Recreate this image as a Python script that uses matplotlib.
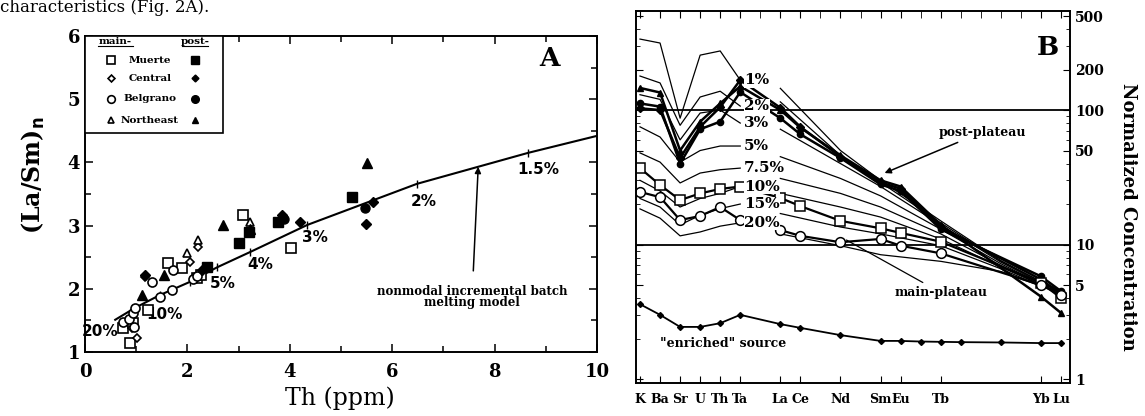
import matplotlib
matplotlib.use('Agg')
import matplotlib.pyplot as plt
from matplotlib.patches import Rectangle
from matplotlib.ticker import FixedLocator, MultipleLocator, NullFormatter

plt.rcParams['font.family'] = 'DejaVu Serif'
plt.rcParams['font.weight'] = 'bold'

# ---------------- panel A : (La/Sm)n vs Th ----------------
# main-plateau (open symbols)
main_muerte_th = [0.88, 0.75, 0.94, 1.23, 1.63, 1.89, 2.18, 2.26, 3.09, 4.02]
main_muerte_lasm = [1.14, 1.38, 1.46, 1.66, 2.41, 2.33, 2.17, 2.22, 3.17, 2.65]
main_central_th = [1.01, 1.17, 2.05, 2.20, 0.92]
main_central_lasm = [1.22, 2.19, 2.43, 2.66, 1.38]
main_belgrano_th = [0.74, 0.85, 0.94, 0.98, 1.31, 1.46, 1.70, 1.72, 2.11, 2.18, 0.95]
main_belgrano_lasm = [1.47, 1.52, 1.62, 1.70, 2.11, 1.87, 1.98, 2.30, 2.16, 2.20, 1.40]
main_northeast_th = [1.99, 2.20, 3.22]
main_northeast_lasm = [2.57, 2.78, 3.06]
# post-plateau (filled symbols)
post_muerte_th = [2.38, 3.01, 3.20, 3.77, 5.21]
post_muerte_lasm = [2.35, 2.72, 2.90, 3.06, 3.45]
post_central_th = [1.17, 3.85, 4.20, 5.62, 5.49, 2.28]
post_central_lasm = [2.22, 3.16, 3.05, 3.38, 3.03, 2.30]
post_belgrano_th = [5.47, 3.88]
post_belgrano_lasm = [3.28, 3.10]
post_northeast_th = [1.11, 1.55, 2.70, 5.51, 3.22]
post_northeast_lasm = [1.90, 2.22, 3.01, 3.99, 2.95]

# melting model curve
model_th = [0.59, 0.98, 1.46, 2.05, 2.58, 3.22, 4.34, 6.48, 8.65, 10.0]
model_lasm = [1.51, 1.70, 1.90, 2.11, 2.34, 2.58, 3.01, 3.66, 4.15, 4.42]
model_pct = ['20%', '10%', '5%', '4%', '3%', '2%', '1.5%']
model_pct_th = [0.29, 1.56, 2.70, 3.42, 4.49, 6.62, 8.85]
model_pct_lasm = [1.32, 1.59, 2.09, 2.38, 2.81, 3.38, 3.89]

# ---------------- panel B : normalized spider diagram ----------------
slots = ['K', 'Ba', 'Sr', 'U', 'Th', 'Ta', '', 'La', 'Ce', 'Pr', 'Nd', 'Pm',
         'Sm', 'Eu', 'Gd', 'Tb', 'Dy', 'Ho', 'Er', 'Tm', 'Yb', 'Lu']
tick_elems = ['K', 'Ba', 'Sr', 'U', 'Th', 'Ta', 'La', 'Ce', 'Nd', 'Sm', 'Eu', 'Tb', 'Yb', 'Lu']

data_elems = ['K', 'Ba', 'Sr', 'U', 'Th', 'Ta', 'La', 'Ce', 'Nd', 'Sm', 'Eu', 'Tb', 'Yb', 'Lu']
post_tri = [146, 135, 50, 82, 112, 150, 100, 74, 46, 30, 27, 14, 4.1, 3.1]
post_dia = [103, 100, 44, 75, 105, 167, 104, 75, 45, 29, 26, 13.5, 5.5, 4.3]
post_cir = [112, 106, 40, 72, 82, 136, 87, 66, 44, 28, 25, 13, 5.8, 4.5]
main_sq = [37, 27.7, 21.4, 24, 25.9, 27, 22.2, 19.3, 15, 13.2, 12.2, 10.5, 5.2, 4.0]
main_cir = [24.6, 22.5, 15.2, 16.3, 19, 15.2, 12.8, 11.6, 10.4, 11, 9.8, 8.6, 5.0, 4.2]

source_elems = ['K', 'Ba', 'Sr', 'U', 'Th', 'Ta', 'La', 'Ce', 'Nd', 'Sm', 'Eu',
                'Gd', 'Tb', 'Dy', 'Er', 'Yb', 'Lu']
source_vals = [3.6, 3.0, 2.44, 2.44, 2.6, 3.0, 2.56, 2.4, 2.12, 1.92, 1.92,
               1.9, 1.89, 1.88, 1.87, 1.85, 1.85]

# melting model curves: left part (K..Ta), right part (La..Lu)
melt_labels = ['1%', '2%', '3%', '5%', '7.5%', '10%', '15%', '20%']
melt_left_elems = ['K', 'Ba', 'Sr', 'U', 'Th', 'Ta']
melt_left = [
    [337, 315, 87, 256, 275, 167],
    [179, 159, 77, 125, 138, 107],
    [130, 120, 60, 95, 100, 80],
    [75, 63, 41, 50, 54, 54],
    [48, 41, 28.7, 34, 36, 37],
    [30, 25, 19, 22, 24, 27],
    [22, 19, 14, 16.5, 18.5, 20],
    [18.4, 15.7, 11.6, 12.4, 13.7, 14.5],
]
melt_right_elems = ['La', 'Nd', 'Sm', 'Tb', 'Er', 'Yb', 'Lu']
melt_right = [
    [145, 50, 30, 15, 7.6, 5.3, 4.5],
    [115, 46, 29, 14.5, 7.5, 5.3, 4.5],
    [72, 40, 27, 14, 7.4, 5.2, 4.5],
    [45, 31, 23, 13, 7.2, 5.1, 4.5],
    [31, 24, 19, 12, 7.0, 5.0, 4.4],
    [24, 19, 16, 11, 6.8, 5.0, 4.4],
    [17, 13.5, 12, 9.8, 6.6, 4.9, 4.4],
    [12, 9.8, 8.4, 7.5, 6.3, 4.9, 4.4],
]

pos = {el: i for i, el in enumerate(slots)}

fig = plt.figure(figsize=(11.45, 4.16), dpi=100)

# scanned caption fragment at the top
fig.text(0.0, 1 - 12 / 416, 'characteristics (Fig. 2A).', fontsize=12,
         fontweight='normal', va='baseline', ha='left')

# ================= panel A =================
axA = fig.add_axes([85 / 1145, 1 - 352 / 416, 512 / 1145, 316 / 416])
axA.set_xlim(0, 10)
axA.set_ylim(1, 6)

open_kw = dict(ls='none', mfc='white', mec='black', mew=1.2)
fill_kw = dict(ls='none', color='black')

axA.plot(model_th, model_lasm, 'k-', lw=1.5, zorder=2)
axA.plot(model_th[1:-1], model_lasm[1:-1], ls='none', marker='|', ms=6, mew=1, color='black')
for lab, x, y in zip(model_pct, model_pct_th, model_pct_lasm):
    axA.text(x, y, lab, fontsize=11, family='DejaVu Sans', ha='center', va='center')

axA.plot(main_muerte_th, main_muerte_lasm, marker='s', ms=7, zorder=3, **open_kw)
axA.plot(main_central_th, main_central_lasm, marker='D', ms=4.5, zorder=3, **open_kw)
axA.plot(main_belgrano_th, main_belgrano_lasm, marker='o', ms=6.5, zorder=3, **open_kw)
axA.plot(main_northeast_th, main_northeast_lasm, marker='^', ms=6, zorder=3, **open_kw)
axA.plot(post_muerte_th, post_muerte_lasm, marker='s', ms=7, zorder=4, **fill_kw)
axA.plot(post_central_th, post_central_lasm, marker='D', ms=5, zorder=4, **fill_kw)
axA.plot(post_belgrano_th, post_belgrano_lasm, marker='o', ms=6.5, zorder=4, **fill_kw)
axA.plot(post_northeast_th, post_northeast_lasm, marker='^', ms=6.5, zorder=4, **fill_kw)

axA.annotate('nonmodal incremental batch\nmelting model', xy=(7.68, 3.93), xytext=(7.56, 1.87),
             ha='center', va='center', fontsize=8.5, linespacing=0.85,
             arrowprops=dict(arrowstyle='-|>', color='black', lw=1.1, mutation_scale=9,
                             shrinkA=8, shrinkB=0))

axA.text(0.908, 0.93, 'A', transform=axA.transAxes, fontsize=19, ha='center', va='center')

# hand-made legend box
axA.add_patch(Rectangle((0, 0.693), 0.27, 0.307, transform=axA.transAxes,
                        fc='white', ec='black', lw=1.2, zorder=5))
axA.text(0.059, 0.975, 'main-', transform=axA.transAxes, fontsize=7.5, ha='center', zorder=6)
axA.text(0.215, 0.975, 'post-', transform=axA.transAxes, fontsize=7.5, ha='center', zorder=6)
for x0, x1 in [(0.025, 0.093), (0.19, 0.24)]:
    axA.plot([x0, x1], [0.968, 0.968], transform=axA.transAxes, color='black', lw=0.8, zorder=6)
leg_names = ['Muerte', 'Central', 'Belgrano', 'Northeast']
leg_marks = ['s', 'D', 'o', '^']
leg_sizes = [6, 3.5, 5.5, 5]
for i, (name, mk, ms) in enumerate(zip(leg_names, leg_marks, leg_sizes)):
    y = [0.924, 0.867, 0.801, 0.734][i]
    axA.plot([0.051], [y], marker=mk, ms=ms, transform=axA.transAxes, zorder=6, clip_on=False, **open_kw)
    axA.plot([0.215], [y], marker=mk, ms=ms, transform=axA.transAxes, zorder=6, clip_on=False, **fill_kw)
    axA.text(0.127, y, name, transform=axA.transAxes, fontsize=7.5, ha='center', va='center', zorder=6)

axA.xaxis.set_major_locator(MultipleLocator(2))
axA.xaxis.set_minor_locator(MultipleLocator(1))
axA.yaxis.set_major_locator(MultipleLocator(1))
axA.yaxis.set_minor_locator(MultipleLocator(0.5))
axA.tick_params(which='both', direction='in', top=True, right=True, width=1.1, labelsize=13)
axA.tick_params(which='major', length=6)
axA.tick_params(which='minor', length=4)
axA.tick_params(axis='x', pad=8)
for s in axA.spines.values():
    s.set_linewidth(1.4)

fig.text(33 / 1145, 1 - 175 / 416, '(La/Sm)$_\\mathbf{n}$', rotation=90, fontsize=17,
         ha='center', va='center')
fig.text(340 / 1145, 1 - 398 / 416, 'Th (ppm)', fontsize=17, fontweight='normal',
         ha='center', va='center')

# ================= panel B =================
axB = fig.add_axes([636 / 1145, 1 - 383 / 416, 434 / 1145, 372 / 416])
axB.set_yscale('log')
axB.set_xlim(-0.2, 21.45)
axB.set_ylim(0.934, 545)

axB.axhline(10, color='black', lw=1.3)
axB.axhline(100, color='black', lw=1.3)

for lab, left, right in zip(melt_labels, melt_left, melt_right):
    axB.plot([pos[e] for e in melt_left_elems], left, 'k-', lw=0.9)
    axB.plot([pos[e] for e in melt_right_elems], right, 'k-', lw=0.9)
    axB.text(5.2, left[-1], lab, fontsize=11, ha='left', va='center',
             bbox=dict(fc='white', ec='none', pad=0.3))

xs = [pos[e] for e in data_elems]
axB.plot(xs, post_tri, 'k-', lw=1.8, marker='^', ms=5)
axB.plot(xs, post_dia, 'k-', lw=1.8, marker='D', ms=4)
axB.plot(xs, post_cir, 'k-', lw=1.8, marker='o', ms=4.5)
axB.plot(xs, main_sq, 'k-', lw=1.6, marker='s', ms=7, mfc='white', mew=1.1)
axB.plot(xs, main_cir, 'k-', lw=1.6, marker='o', ms=7, mfc='white', mew=1.1)
axB.plot([pos[e] for e in source_elems], source_vals, 'k-', lw=1.3, marker='D', ms=3)

axB.annotate('post-plateau', xy=(12.2, 34), xytext=(14.9, 68.6), fontsize=9,
             ha='left', va='center',
             arrowprops=dict(arrowstyle='-|>', color='black', lw=1.1, mutation_scale=9,
                             shrinkA=2, shrinkB=0))
axB.annotate('main-plateau', xy=(10.3, 10.8), xytext=(15.0, 4.4), fontsize=9,
             ha='center', va='center',
             arrowprops=dict(arrowstyle='-', color='black', lw=0.9, shrinkA=1, shrinkB=0))
axB.text(4.15, 1.85, '"enriched" source', fontsize=9, ha='center', va='center')
axB.text(0.95, 0.903, 'B', transform=axB.transAxes, fontsize=19, ha='center', va='center')

axB.set_xticks([pos[e] for e in tick_elems])
axB.set_xticklabels(tick_elems, fontsize=9)
axB.set_xticks(range(len(slots)), minor=True)
axB.tick_params(axis='x', which='major', direction='in', top=True, length=5, pad=7)
axB.tick_params(axis='x', which='minor', direction='in', top=True, bottom=False, length=5)

axB.yaxis.set_major_locator(FixedLocator([1, 5, 10, 50, 100, 200, 500]))
axB.yaxis.set_minor_locator(FixedLocator([2, 3, 4, 6, 7, 8, 9, 20, 30, 40, 60, 70, 80, 90, 300, 400]))
axB.yaxis.set_minor_formatter(NullFormatter())
axB.set_yticklabels(['1', '5', '10', '50', '100', '200', '500'])
axB.tick_params(axis='y', which='both', direction='in', left=True, right=True,
                labelleft=False, labelright=True, labelsize=10)
axB.tick_params(axis='y', which='major', length=5)
axB.tick_params(axis='y', which='minor', length=3)
for s in axB.spines.values():
    s.set_linewidth(1.4)

fig.text(1128 / 1145, 1 - 217 / 416, 'Normalized Concentration', rotation=-90, fontsize=13,
         ha='center', va='center')

fig.savefig('out.png', dpi=100)
